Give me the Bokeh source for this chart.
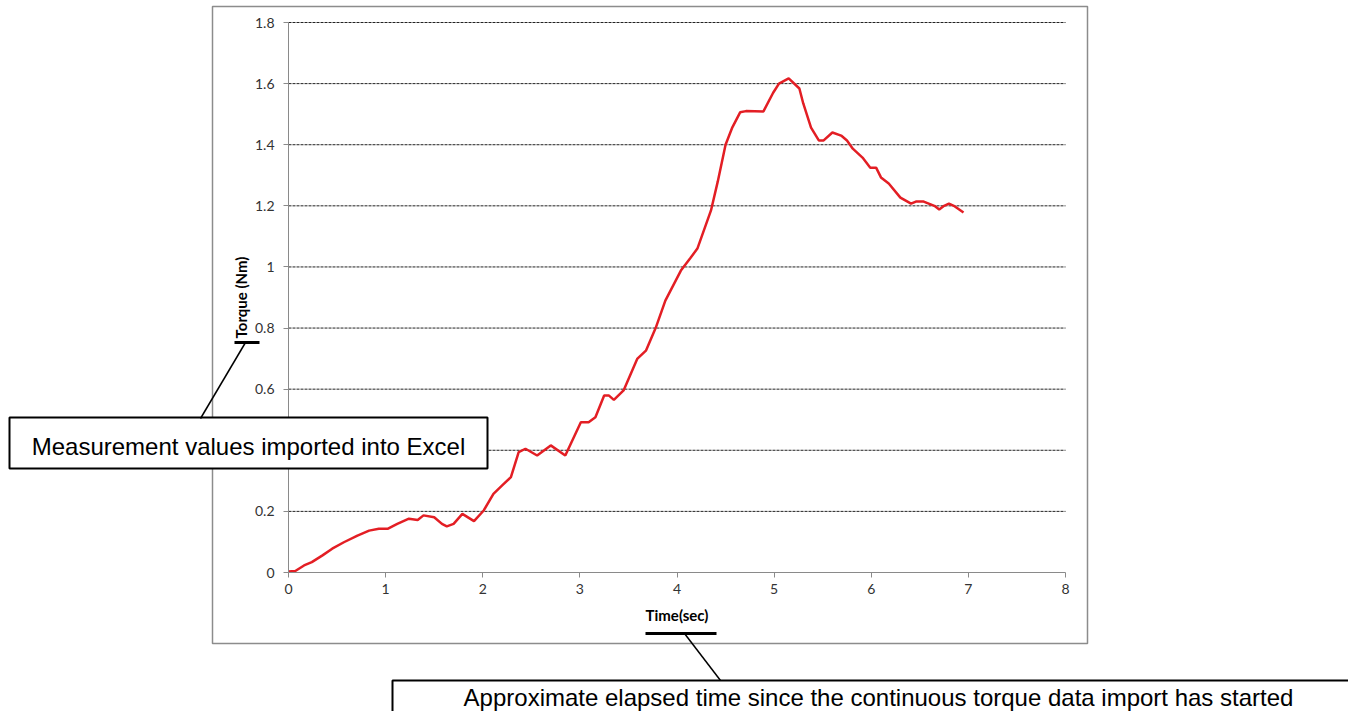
from bokeh.plotting import figure
from bokeh.models import Range1d, FixedTicker, BoxAnnotation, Label, Arrow
from bokeh.embed import file_html
from bokeh.resources import INLINE

# ---- data ----
time_s = [0.0, 0.07, 0.16, 0.24, 0.35, 0.45, 0.57, 0.71, 0.83, 0.93, 1.02, 1.12,
          1.24, 1.33, 1.39, 1.50, 1.58, 1.63, 1.70, 1.79, 1.91, 2.01, 2.11, 2.20,
          2.29, 2.37, 2.44, 2.56, 2.70, 2.85, 3.01, 3.09, 3.16, 3.25, 3.30, 3.35,
          3.45, 3.59, 3.68, 3.78, 3.88, 4.04, 4.14, 4.21, 4.35, 4.42, 4.50, 4.57,
          4.65, 4.71, 4.89, 4.99, 5.05, 5.15, 5.26, 5.30, 5.38, 5.46, 5.51, 5.60,
          5.69, 5.75, 5.81, 5.91, 5.99, 6.05, 6.10, 6.18, 6.30, 6.41, 6.46, 6.54,
          6.65, 6.70, 6.75, 6.80, 6.85, 6.95]
torque_nm = [0.003, 0.005, 0.023, 0.034, 0.056, 0.078, 0.099, 0.121, 0.137, 0.143, 0.143, 0.159,
             0.176, 0.172, 0.187, 0.181, 0.159, 0.151, 0.159, 0.192, 0.168, 0.203, 0.257, 0.285,
             0.312, 0.394, 0.405, 0.383, 0.416, 0.383, 0.492, 0.492, 0.508, 0.579, 0.579, 0.565,
             0.596, 0.699, 0.726, 0.80, 0.89, 0.988, 1.03, 1.06, 1.185, 1.28, 1.40, 1.457,
             1.506, 1.51, 1.509, 1.57, 1.60, 1.617, 1.584, 1.535, 1.456, 1.414, 1.414, 1.44,
             1.43, 1.414, 1.387, 1.358, 1.325, 1.325, 1.293, 1.273, 1.227, 1.207, 1.214, 1.214,
             1.2, 1.188, 1.2, 1.207, 1.2, 1.178]

x_ticks = [0, 1, 2, 3, 4, 5, 6, 7, 8]
y_ticks = [0, 0.2, 0.4, 0.6, 0.8, 1.0, 1.2, 1.4, 1.6, 1.8]
y_tick_labels = ["0", "0.2", "0.4", "0.6", "0.8", "1", "1.2", "1.4", "1.6", "1.8"]
x_title = "Time(sec)"
y_title = "Torque (Nm)"
note_y = "Measurement values imported into Excel"
note_x = "Approximate elapsed time since the continuous torque data import has started"

# ---- layout (pixels) ----
W, H = 1348, 711
PLOT_L, PLOT_R, PLOT_T, PLOT_B = 288, 1065, 22, 572
X0, X1 = x_ticks[0], x_ticks[-1]
Y0, Y1 = y_ticks[0], y_ticks[-1]
kx = (PLOT_R - PLOT_L) / (X1 - X0)
ky = (PLOT_B - PLOT_T) / (Y1 - Y0)

p = figure(width=W, height=H, output_backend="svg", toolbar_location=None,
           x_range=Range1d(X0 - PLOT_L / kx, X1 + (W - PLOT_R) / kx),
           y_range=Range1d(Y0 - (H - PLOT_B) / ky, Y1 + PLOT_T / ky),
           min_border=0)
p.extra_x_ranges = {"px": Range1d(0, W)}
p.extra_y_ranges = {"py": Range1d(H, 0)}

p.outline_line_color = None
p.background_fill_color = "white"
p.border_fill_color = "white"
p.xgrid.visible = False
p.ygrid.visible = False

for ax in (p.xaxis, p.yaxis):
    ax.fixed_location = 0
    ax.axis_line_color = "#8a8a8a"
    ax.major_tick_line_color = "#8a8a8a"
    ax.minor_tick_line_color = None
    ax.major_tick_in = 0
    ax.major_tick_out = 5
    ax.major_label_text_font = "Lato"
    ax.major_label_text_font_size = "14px"
    ax.major_label_text_color = "#333333"
    ax.axis_label_text_font = "Lato"
    ax.axis_label_text_font_style = "bold"
    ax.axis_label_text_font_size = "15px"
    ax.axis_label_text_color = "black"

p.xaxis.bounds = (X0, X1)
p.yaxis.bounds = (Y0, Y1)
p.xaxis.ticker = FixedTicker(ticks=x_ticks)
p.yaxis.ticker = FixedTicker(ticks=y_ticks)
p.yaxis.major_label_overrides = dict(zip(y_ticks, y_tick_labels))
p.xaxis.axis_label = x_title
p.yaxis.axis_label = y_title
p.xaxis.major_label_standoff = 6
p.xaxis.axis_label_standoff = 9
p.yaxis.major_label_standoff = 9
p.yaxis.axis_label_standoff = 2

# dashed horizontal gridlines across the plot area
grid_y = y_ticks[1:]
p.segment(x0=[X0] * len(grid_y), x1=[X1] * len(grid_y), y0=grid_y, y1=grid_y,
          line_color="#222222", line_dash="3 1", line_width=1, level="underlay")

p.line(time_s, torque_nm, line_color="#e31e24", line_width=2.5)

# chart border
p.add_layout(BoxAnnotation(left=212, right=1087, top=6, bottom=643,
                           x_range_name="px", y_range_name="py",
                           fill_color=None, fill_alpha=0,
                           line_color="#8c8c8c", line_alpha=1, line_width=1.5))

# callout 1
p.add_layout(BoxAnnotation(left=9, right=487, top=417, bottom=468,
                           x_range_name="px", y_range_name="py",
                           fill_color="white", fill_alpha=1,
                           line_color="black", line_alpha=1, line_width=2))
p.add_layout(Arrow(x_start=200, y_start=418, x_end=245, y_end=342, end=None,
                   line_color="black", line_width=1.5,
                   x_range_name="px", y_range_name="py"))
p.add_layout(Arrow(x_start=234, y_start=342, x_end=259, y_end=342, end=None,
                   line_color="black", line_width=3,
                   x_range_name="px", y_range_name="py"))
p.add_layout(Label(x=248, y=446, text=note_y, x_range_name="px", y_range_name="py",
                   text_align="center", text_baseline="middle",
                   text_font="Liberation Sans", text_font_size="24px",
                   text_color="black", level="overlay"))

# callout 2
p.add_layout(BoxAnnotation(left=392, right=1363, top=680, bottom=760,
                           x_range_name="px", y_range_name="py",
                           fill_color="white", fill_alpha=1,
                           line_color="black", line_alpha=1, line_width=2))
p.add_layout(Arrow(x_start=720, y_start=680, x_end=684, y_end=633, end=None,
                   line_color="black", line_width=1.5,
                   x_range_name="px", y_range_name="py"))
p.add_layout(Arrow(x_start=645, y_start=633, x_end=716, y_end=633, end=None,
                   line_color="black", line_width=3,
                   x_range_name="px", y_range_name="py"))
p.add_layout(Label(x=878, y=697, text=note_x, x_range_name="px", y_range_name="py",
                   text_align="center", text_baseline="middle",
                   text_font="Liberation Sans", text_font_size="24px",
                   text_color="black", level="overlay"))

open("out.html", "w").write(file_html(p, INLINE))
